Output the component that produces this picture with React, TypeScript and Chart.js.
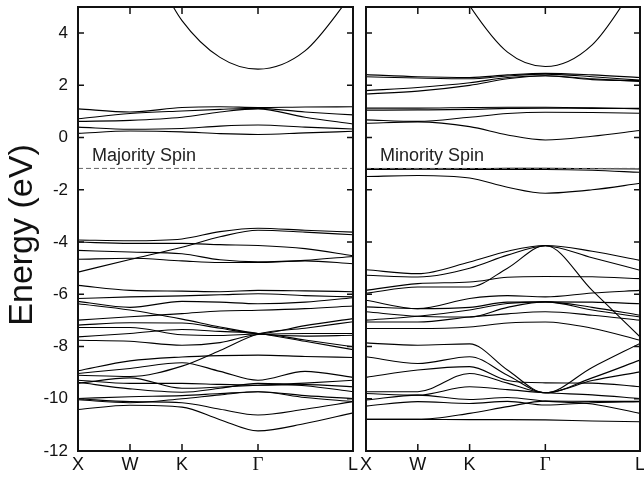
import React, { useEffect, useRef } from "react";
import { Chart, registerables } from "chart.js";

Chart.register(...registerables);

// k-path abscissas: X, W, K, (K–Γ), Γ, (Γ–L), L
const kPath = [0, 52, 104, 142, 180, 227, 275];
const kTickPos = [0, 52, 104, 180, 275];
const kTickLabels = ["X", "W", "K", "Γ", "L"];
const energyTicks = [-12, -10, -8, -6, -4, -2, 0, 2, 4];
const energyMin = -12;
const energyMax = 5;
const dashedLevel = -1.18;

// Majority spin bands (eV) sampled along kPath
const majorityConduction = [
  [9.0, 7.9, 4.48, 3.07, 2.62, 3.32, 5.53],
];
const majorityDBands = [
  [1.1, 0.98, 1.15, 1.18, 1.15, 1.17, 1.18],
  [0.72, 0.92, 1.02, 1.08, 1.12, 0.98, 0.87],
  [0.62, 0.66, 0.78, 0.98, 1.1, 0.78, 0.52],
  [0.4, 0.32, 0.35, 0.44, 0.48, 0.4, 0.33],
  [0.16, 0.25, 0.22, 0.15, 0.12, 0.18, 0.24],
];
const majorityValence = [
  [-3.92, -3.95, -3.88, -3.6, -3.47, -3.55, -3.62],
  [-4.0, -4.05, -4.05, -4.1, -4.13, -4.25, -4.53],
  [-4.32, -4.38, -4.45, -4.68, -4.76, -4.72, -4.83],
  [-4.66, -4.62, -4.72, -4.78, -4.78, -4.7, -4.55],
  [-5.15, -4.67, -4.2, -3.8, -3.55, -3.62, -3.72],
  [-5.66, -5.85, -5.88, -5.9, -5.85, -5.87, -5.9],
  [-6.16, -6.1, -6.06, -6.02, -5.98, -6.05, -6.1],
  [-6.27, -6.5, -6.27, -6.3, -6.36, -6.3, -6.13],
  [-6.36, -6.6, -6.95, -7.25, -7.5, -7.6, -7.57],
  [-6.99, -6.86, -6.74, -6.64, -6.61, -6.55, -6.45],
  [-7.18, -7.09, -7.1, -7.3, -7.5, -7.2, -6.93],
  [-7.27, -7.27, -7.55, -7.58, -7.52, -7.75, -8.01],
  [-7.63, -7.5, -7.35, -7.42, -7.5, -7.8, -8.12],
  [-7.76, -7.8, -7.95, -7.85, -7.54, -7.5, -7.5],
  [-8.93, -8.55, -8.4, -8.35, -8.33, -8.38, -8.42],
  [-9.03, -8.84, -8.62, -8.95, -9.29, -8.95, -9.18],
  [-9.1, -9.15, -8.75, -8.15, -7.52, -7.3, -7.05],
  [-9.29, -9.41, -9.41, -9.45, -9.48, -9.46, -9.54],
  [-9.37, -9.62, -9.75, -9.6, -9.41, -9.5, -9.73],
  [-9.41, -9.2, -9.6, -9.55, -9.48, -9.4, -9.29],
  [-9.99, -9.92, -9.88, -9.8, -9.73, -9.88, -9.99],
  [-10.04, -10.15, -10.0, -9.85, -9.73, -9.95, -10.11],
  [-10.0, -10.11, -10.15, -10.4, -10.62, -10.4, -10.11],
  [-10.41, -10.25, -10.32, -10.8, -11.23, -10.95, -10.54],
];

// Minority spin bands (eV) sampled along kPath
const minorityConduction = [
  [11.0, 8.5, 5.05, 3.27, 2.72, 3.55, 6.1],
];
const minorityDBands = [
  [2.41, 2.33, 2.3, 2.4, 2.46, 2.4, 2.3],
  [2.33, 2.28, 2.25, 2.36, 2.43, 2.33, 2.2],
  [1.8, 1.92, 2.1, 2.3, 2.37, 2.25, 2.15],
  [1.67, 1.78, 2.0, 2.25, 2.37, 2.22, 2.18],
  [1.13, 1.13, 1.15, 1.16, 1.16, 1.14, 1.1],
  [1.05, 1.06, 1.08, 1.12, 1.13, 1.12, 1.12],
  [0.68, 0.62, 0.78, 0.92, 0.97, 0.96, 0.93],
  [0.55, 0.6, 0.42, 0.1, -0.09, 0.05, 0.27],
  [-1.19, -1.19, -1.19, -1.18, -1.18, -1.19, -1.2],
  [-1.22, -1.21, -1.22, -1.22, -1.22, -1.25, -1.33],
  [-1.49, -1.45, -1.55, -1.9, -2.13, -2.0, -1.75],
];
const minorityValence = [
  [-5.06, -5.21, -4.76, -4.35, -4.13, -4.35, -4.7],
  [-5.27, -5.34, -5.0, -4.5, -4.15, -4.6, -5.08],
  [-5.85, -5.59, -5.53, -5.35, -5.32, -5.33, -5.4],
  [-5.96, -5.72, -5.72, -5.0, -4.13, -5.85, -7.63],
  [-6.23, -6.55, -6.16, -6.05, -6.1, -5.95, -5.85],
  [-6.48, -6.55, -6.5, -6.3, -6.29, -6.3, -6.36],
  [-6.67, -6.84, -6.87, -6.5, -6.29, -6.5, -6.8],
  [-6.99, -6.84, -6.6, -6.35, -6.29, -6.6, -6.87],
  [-7.06, -7.06, -6.87, -6.75, -6.67, -6.8, -6.99],
  [-7.31, -7.31, -7.25, -7.1, -7.06, -7.3, -7.76],
  [-7.86, -7.95, -7.9, -8.9, -9.77, -8.8, -7.88],
  [-8.39, -8.65, -8.39, -9.1, -9.77, -9.2, -8.52],
  [-9.18, -8.9, -8.77, -9.3, -9.39, -9.4, -9.54],
  [-9.73, -9.73, -9.03, -9.4, -9.77, -9.3, -8.97],
  [-9.8, -9.86, -9.54, -9.65, -9.77, -9.85, -9.99],
  [-10.05, -9.86, -10.03, -9.95, -10.09, -10.2, -10.56],
  [-10.28, -10.11, -10.18, -10.1, -10.24, -10.15, -10.11],
  [-10.79, -10.79, -10.56, -10.3, -10.09, -10.1, -10.1],
  [-10.79, -10.79, -10.8, -10.8, -10.81, -10.85, -10.88],
];

const SANS = "Liberation Sans";
const INK = "#111";

// Frame, inward tick marks, k-point labels, axis title and the spin caption
const bandFrame = {
  id: "bandFrame",
  afterDraw(chart: any, _args: any, opts: any) {
    const { ctx, chartArea } = chart;
    const { left, right, top, bottom } = chartArea;
    const xs = chart.scales.x;
    const ys = chart.scales.y;
    ctx.save();
    ctx.strokeStyle = INK;
    ctx.lineWidth = 1.5;
    ctx.beginPath();
    energyTicks.forEach((v) => {
      const y = ys.getPixelForValue(v);
      ctx.moveTo(left, y);
      ctx.lineTo(left + 6, y);
      ctx.moveTo(right - 6, y);
      ctx.lineTo(right, y);
    });
    kTickPos.slice(1, -1).forEach((k) => {
      const x = xs.getPixelForValue(k);
      ctx.moveTo(x, bottom);
      ctx.lineTo(x, bottom - 7);
      ctx.moveTo(x, top);
      ctx.lineTo(x, top + 7);
    });
    ctx.stroke();
    ctx.lineWidth = 2;
    ctx.strokeRect(left, top, right - left, bottom - top);

    ctx.fillStyle = INK;
    ctx.textAlign = "center";
    ctx.textBaseline = "middle";
    kTickPos.forEach((k, i) => {
      const lab = kTickLabels[i];
      ctx.font = lab === "Γ" ? '19px "Liberation Serif"' : `18px "${SANS}"`;
      ctx.fillText(lab, xs.getPixelForValue(k), bottom + 14);
    });

    if (opts.axisTitle) {
      ctx.save();
      ctx.translate(23, (top + bottom) / 2 + 6);
      ctx.rotate(-Math.PI / 2);
      ctx.font = `34px "${SANS}"`;
      ctx.fillText(opts.axisTitle, 0, 0);
      ctx.restore();
    }

    ctx.font = `18px "${SANS}"`;
    ctx.fillStyle = "#222";
    ctx.textAlign = "left";
    ctx.textBaseline = "alphabetic";
    ctx.fillText(opts.spinLabel, left + 14, ys.getPixelForValue(dashedLevel) - 7);
    ctx.restore();
  },
};

function bandDatasets(groups: number[][][]) {
  const sets: any[] = [
    {
      data: [
        { x: kPath[0], y: dashedLevel },
        { x: kPath[kPath.length - 1], y: dashedLevel },
      ],
      borderColor: "#666",
      borderWidth: 1,
      borderDash: [5, 3],
      pointRadius: 0,
    },
  ];
  groups.forEach((g) =>
    g.forEach((band) =>
      sets.push({
        data: kPath.map((k, i) => ({ x: k, y: band[i] })),
        borderColor: "#000",
        borderWidth: 1.1,
        pointRadius: 0,
        cubicInterpolationMode: "monotone",
      })
    )
  );
  return sets;
}

function makeConfig(
  groups: number[][][],
  spinLabel: string,
  axisTitle: string,
  withAxis: boolean,
  padding: any
) {
  return {
    type: "line" as const,
    data: { datasets: bandDatasets(groups) },
    options: {
      animation: false,
      responsive: false,
      events: [],
      layout: { padding },
      plugins: {
        legend: { display: false },
        tooltip: { enabled: false },
        bandFrame: { spinLabel, axisTitle },
      },
      scales: {
        x: {
          type: "linear",
          min: kPath[0],
          max: kPath[kPath.length - 1],
          grid: { display: false, drawTicks: false },
          border: { display: false },
          ticks: { display: false },
          afterFit(s: any) {
            s.height = 28;
            s.paddingLeft = 0;
            s.paddingRight = 0;
          },
        },
        y: {
          type: "linear",
          display: withAxis,
          min: energyMin,
          max: energyMax,
          grid: { display: false, drawTicks: false },
          border: { display: false },
          ticks: {
            stepSize: 2,
            includeBounds: false,
            padding: 10,
            color: INK,
            font: { family: SANS, size: 17 },
          },
          afterFit(s: any) {
            s.width = withAxis ? 78 : 0;
            s.paddingTop = 0;
            s.paddingBottom = 0;
          },
        },
      },
    },
    plugins: [bandFrame],
  };
}

function BandPanel(props: {
  groups: number[][][];
  spinLabel: string;
  axisTitle: string;
  withAxis: boolean;
  padding: any;
  left: number;
  width: number;
}) {
  const ref = useRef<HTMLCanvasElement | null>(null);
  useEffect(() => {
    if (!ref.current) return;
    const chart = new Chart(
      ref.current,
      makeConfig(
        props.groups,
        props.spinLabel,
        props.axisTitle,
        props.withAxis,
        props.padding
      ) as any
    );
    return () => chart.destroy();
  }, []);
  return (
    <canvas
      ref={ref}
      width={props.width}
      height={479}
      style={{ position: "absolute", left: props.left, top: 0, display: "block" }}
    />
  );
}

export default function App() {
  return (
    <div
      style={{
        position: "fixed",
        left: 0,
        top: 0,
        width: 644,
        height: 479,
        background: "#fff",
        overflow: "hidden",
      }}
    >
      <BandPanel
        groups={[majorityConduction, majorityDBands, majorityValence]}
        spinLabel="Majority Spin"
        axisTitle="Energy (eV)"
        withAxis={true}
        padding={{ left: 0, right: 7, top: 7, bottom: 0 }}
        left={0}
        width={360}
      />
      <BandPanel
        groups={[minorityConduction, minorityDBands, minorityValence]}
        spinLabel="Minority Spin"
        axisTitle=""
        withAxis={false}
        padding={{ left: 6, right: 4, top: 7, bottom: 0 }}
        left={360}
        width={284}
      />
    </div>
  );
}
